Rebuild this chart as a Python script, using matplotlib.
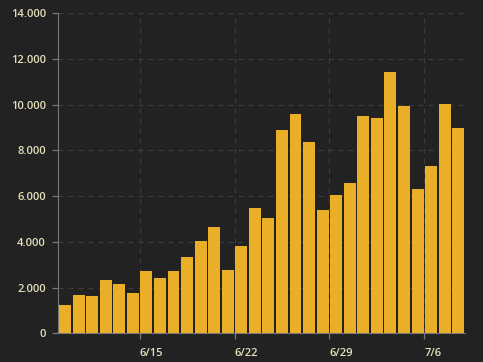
import numpy as np
import matplotlib.pyplot as plt
from matplotlib.ticker import FuncFormatter

# daily values, 6/9 .. 7/8
dates = ['6/9', '6/10', '6/11', '6/12', '6/13', '6/14', '6/15', '6/16', '6/17', '6/18',
         '6/19', '6/20', '6/21', '6/22', '6/23', '6/24', '6/25', '6/26', '6/27', '6/28',
         '6/29', '6/30', '7/1', '7/2', '7/3', '7/4', '7/5', '7/6', '7/7', '7/8']
values = [1240, 1680, 1630, 2330, 2160, 1760, 2730, 2420, 2730, 3340,
          4040, 4650, 2770, 3820, 5480, 5040, 8890, 9600, 8370, 5390,
          6050, 6580, 9510, 9420, 11430, 9940, 6310, 7320, 10030, 8980]
shownLabels = ['6/15', '6/22', '6/29', '7/6']

bg = '#222222'
barColor = '#ebaf27'
textColor = '#e4e0bc'

plt.rcParams['font.family'] = ['Open Sans', 'DejaVu Sans']

fig = plt.figure(figsize=(4.83, 3.62), dpi=100, facecolor=bg)
ax = fig.add_axes([0.1207, 0.0793, 0.8420, 0.8840], facecolor=bg)

x = np.arange(len(dates))
ax.bar(x, values, width=0.88, color=barColor, zorder=3)

ax.set_xlim(-0.5, len(dates) - 0.5)
ax.set_ylim(0, 14000)
ax.set_yticks(range(0, 14001, 2000))
ax.yaxis.set_major_formatter(FuncFormatter(lambda v, p: f'{int(v):,}'.replace(',', '.')))

# ticks sit on the day boundaries, labels start just right of them
tickPos = [dates.index(d) - 0.5 for d in shownLabels]
ax.set_xticks(tickPos)
ax.set_xticklabels(shownLabels, ha='left')

ax.grid(True, color='#3c3c3c', linestyle=(0, (4, 4)), linewidth=0.9, zorder=0)
for s in ['top', 'right']:
    ax.spines[s].set_visible(False)
ax.spines['left'].set_color('#777777')
ax.spines['bottom'].set_color('#777777')
ax.tick_params(colors='#777777', labelcolor=textColor, labelsize=8, length=4.5, width=0.9)
ax.tick_params(axis='x', pad=6)
ax.tick_params(axis='y', pad=4.5)
for lbl in ax.get_xticklabels() + ax.get_yticklabels():
    lbl.set_fontweight('semibold')

plt.savefig('out.png', dpi=100, facecolor=bg)
